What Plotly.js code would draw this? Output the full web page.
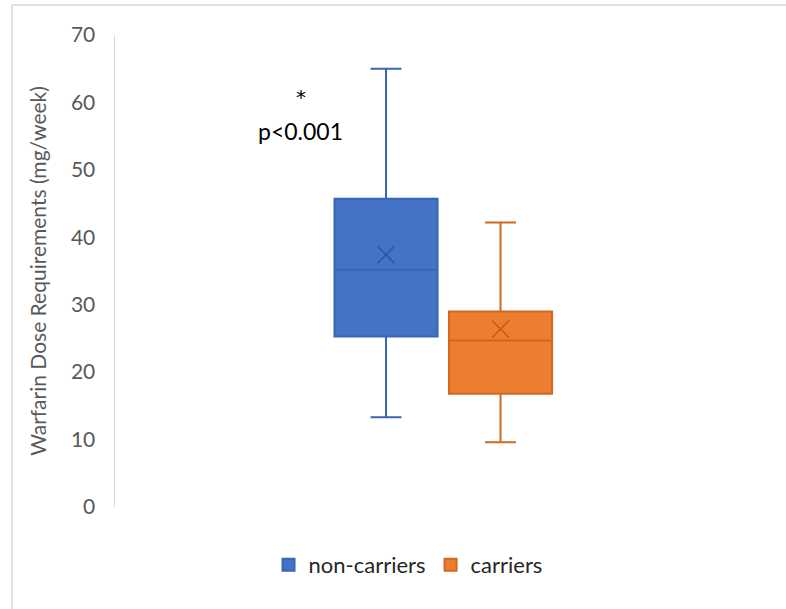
<!DOCTYPE html>
<html>
<head>
<meta charset="utf-8">
<script src="https://cdn.plot.ly/plotly-3.0.1.min.js"></script>
<style>html,body{margin:0;padding:0;background:#fff}#chart{width:786px;height:609px}</style>
</head>
<body>
<div id="chart"></div>
<script>
const groups = ['non-carriers', 'carriers'];
const lowerWhisker = [13.3, 9.6];
const q1Values = [25.3, 16.8];
const medianValues = [35.2, 24.7];
const q3Values = [45.7, 29.0];
const upperWhisker = [65.0, 42.2];
const meanValues = [37.4, 26.4];
const fillColors = ['#4472C4', '#ED7D31'];
const lineColors = ['#3A65B4', '#D0691F'];
const markColors = ['#2F5597', '#C55A11'];
const yTicks = [0, 10, 20, 30, 40, 50, 60, 70];

const traces = [];
groups.forEach((g, i) => {
  traces.push({
    type: 'box',
    name: g,
    x: [g],
    q1: [q1Values[i]],
    median: [medianValues[i]],
    q3: [q3Values[i]],
    lowerfence: [lowerWhisker[i]],
    upperfence: [upperWhisker[i]],
    fillcolor: fillColors[i],
    line: {color: lineColors[i], width: 2},
    whiskerwidth: 0.3,
    boxpoints: false,
    hoverinfo: 'skip'
  });
});
groups.forEach((g, i) => {
  traces.push({
    type: 'scatter',
    mode: 'markers',
    x: [g],
    y: [meanValues[i]],
    showlegend: false,
    marker: {symbol: 'x-thin', size: 17, line: {color: markColors[i], width: 1.5}},
    hoverinfo: 'skip'
  });
});

const layout = {
  width: 786, height: 609,
  margin: {l: 115, r: 14, t: 35, b: 102},
  paper_bgcolor: '#fff', plot_bgcolor: '#fff',
  font: {family: 'Lato, "Open Sans", sans-serif', color: '#595959', size: 18},
  boxmode: 'overlay',
  boxgap: 0.1,
  boxgroupgap: 0,
  showlegend: true,
  legend: {orientation: 'h', x: 0.446, xanchor: 'center', y: -0.1226, yanchor: 'middle',
           font: {size: 22, color: '#262626'}, itemwidth: 30, traceorder: 'normal'},
  xaxis: {type: 'category', categoryarray: groups, range: [-2.367, 3.371],
          showticklabels: false, showline: false, showgrid: false, zeroline: false, ticks: ''},
  yaxis: {range: [0, 70], tickvals: yTicks, showline: true, linecolor: '#D9D9D9', linewidth: 1.5,
          showgrid: false, zeroline: false, ticks: 'outside', ticklen: 14, tickcolor: 'rgba(0,0,0,0)',
          tickfont: {size: 21, color: '#595959'},
          title: {text: 'Warfarin Dose Requirements (mg/week)', font: {size: 21, color: '#595959'}, standoff: 18}},
  annotations: [
    {xref: 'paper', yref: 'paper', x: 0.283, y: 0.868, xanchor: 'center', yanchor: 'middle',
     text: '*', showarrow: false, font: {family: '"DejaVu Sans", sans-serif', size: 20, color: '#000'}},
    {xref: 'paper', yref: 'paper', x: 0.283, y: 0.797, xanchor: 'center', yanchor: 'middle',
     text: 'p&lt;0.001', showarrow: false, font: {size: 23, color: '#000'}}
  ],
  shapes: [
    {type: 'line', xref: 'paper', yref: 'paper', x0: -0.1568, x1: 1.03, y0: 1.0635, y1: 1.0635,
     line: {color: '#D9D9D9', width: 1.5}},
    {type: 'line', xref: 'paper', yref: 'paper', x0: -0.1568, x1: -0.1568, y0: 1.0635, y1: -0.23,
     line: {color: '#D9D9D9', width: 1.5}}
  ]
};

Plotly.newPlot('chart', traces, layout, {displayModeBar: false, staticPlot: true});
</script>
</body>
</html>
